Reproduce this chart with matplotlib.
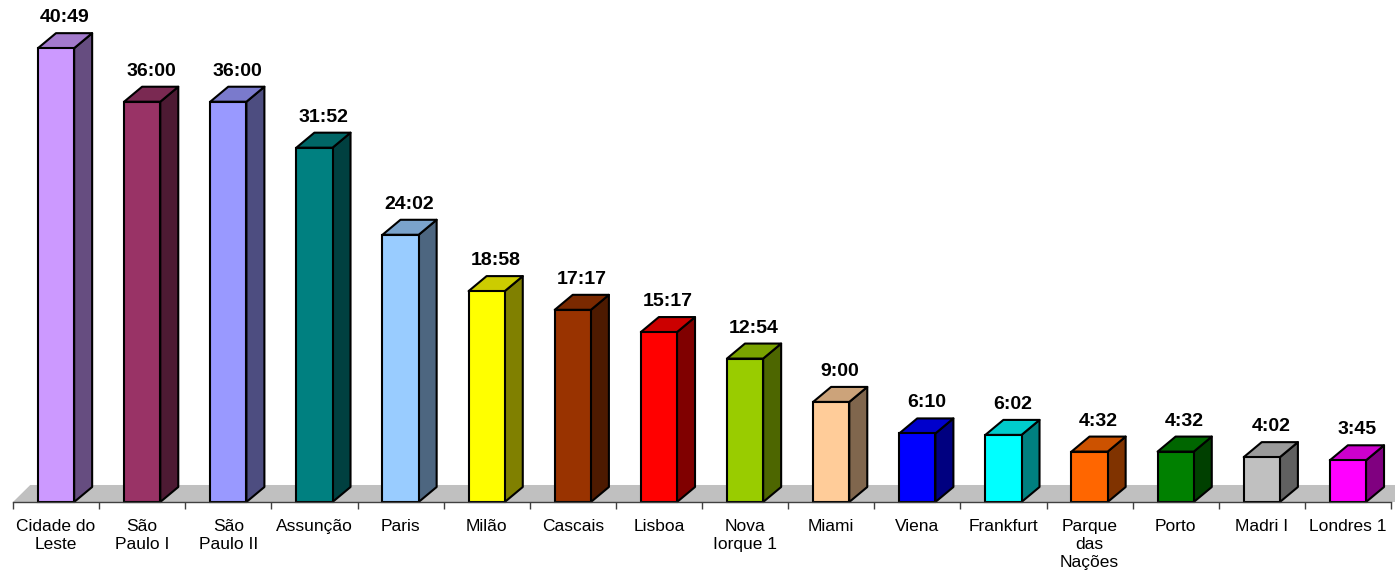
import matplotlib
matplotlib.use("Agg")
import matplotlib.pyplot as plt
from matplotlib.patches import Polygon
from matplotlib.colors import to_rgb

# ------------------ dados ------------------
cities = ["Cidade do\nLeste", "São\nPaulo I", "São\nPaulo II", "Assunção", "Paris",
          "Milão", "Cascais", "Lisboa", "Nova\nIorque 1", "Miami", "Viena",
          "Frankfurt", "Parque\ndas\nNações", "Porto", "Madri I", "Londres 1"]
labels = ["40:49", "36:00", "36:00", "31:52", "24:02", "18:58", "17:17", "15:17",
          "12:54", "9:00", "6:10", "6:02", "4:32", "4:32", "4:02", "3:45"]
colors = ["#CC99FF", "#993366", "#9999FF", "#008080", "#99CCFF", "#FFFF00",
          "#993300", "#FF0000", "#99CC00", "#FFCC99", "#0000FF", "#00FFFF",
          "#FF6600", "#008000", "#C0C0C0", "#FF00FF"]

values = []
for s in labels:
    a, b = s.split(":")
    values.append(int(a) + int(b) / 60)


def shade(c, f):
    r, g, b = to_rgb(c)
    return (r * f, g * f, b * f)


# ------------------ figura ------------------
plt.rcParams["font.family"] = ["Liberation Sans", "DejaVu Sans"]
fig = plt.figure(figsize=(13.95, 5.87), dpi=100)
ax = fig.add_axes([13 / 1395, 85 / 587, 1378 / 1395, 502 / 587])
n = len(values)
ax.set_xlim(0, n)
ax.set_ylim(0, 45.15)

w = 0.42      # largura da face frontal
dx = 0.209    # profundidade (x)
dy = 1.35     # profundidade (y)

# chão cinzento
floor = Polygon([(0, 0), (0.2, 1.53), (n + 1, 1.53), (n + 1, 0)],
                closed=True, facecolor="#C0C0C0", edgecolor="none",
                clip_on=False, zorder=0)
ax.add_patch(floor)

xs = [i + 0.5 for i in range(n)]
for x, v, c, lab in zip(xs, values, colors, labels):
    left, right = x - w / 2, x + w / 2
    side = Polygon([(right, 0), (right, v), (right + dx, v + dy), (right + dx, dy)],
                   closed=True, facecolor=shade(c, 0.5), edgecolor="black",
                   linewidth=1.5, joinstyle="round", zorder=2, clip_on=False)
    top = Polygon([(left, v), (left + dx, v + dy), (right + dx, v + dy), (right, v)],
                  closed=True, facecolor=shade(c, 0.8), edgecolor="black",
                  linewidth=1.5, joinstyle="round", zorder=2, clip_on=False)
    ax.add_patch(side)
    ax.add_patch(top)
    ax.annotate(lab, (x + dx / 2, v + dy), xytext=(0, 5), textcoords="offset points",
                ha="center", va="bottom", fontsize=14, fontweight="bold",
                annotation_clip=False)

ax.bar(xs, values, width=w, color=colors, edgecolor="black", linewidth=1.5,
       zorder=3, clip_on=False)

# eixos
for sp in ["top", "right", "left"]:
    ax.spines[sp].set_visible(False)
ax.spines["bottom"].set_color("#404040")
ax.spines["bottom"].set_linewidth(1.0)
ax.spines["bottom"].set_zorder(4)
ax.set_yticks([])
ax.set_xticks(xs)
ax.set_xticklabels(cities, fontsize=12.5, linespacing=1.25)
ax.tick_params(axis="x", which="major", length=0, pad=12)
ax.set_xticks(range(n + 1), minor=True)
ax.tick_params(axis="x", which="minor", length=5, width=1.0, color="#404040")
ax.patch.set_visible(False)

fig.savefig("out.png", dpi=100)
